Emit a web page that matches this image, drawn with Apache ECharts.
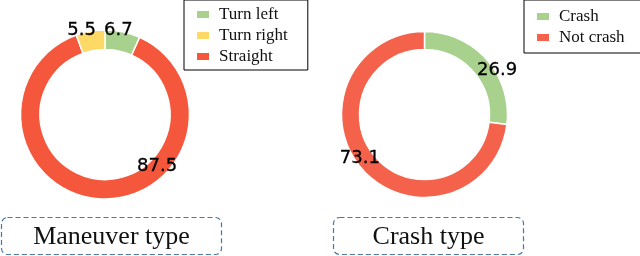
<!DOCTYPE html>
<html><head><meta charset="utf-8">
<script src="https://cdn.jsdelivr.net/npm/echarts@6/dist/echarts.min.js"></script>
<style>html,body{margin:0;padding:0;background:#fff}#c{width:640px;height:256px}</style>
</head><body><div id="c"></div>
<script>
// Data
const maneuverNames = ['Turn left', 'Straight', 'Turn right'];
const maneuverValues = [6.7, 87.5, 5.5];
const maneuverLegend = ['Turn left', 'Turn right', 'Straight'];
const crashNames = ['Crash', 'Not crash'];
const crashValues = [26.9, 73.1];
const titles = ['Maneuver type', 'Crash type'];

const colorMap = {'Turn left':'#a9d18e','Turn right':'#ffd966','Straight':'#f4573b','Crash':'#a9d18e','Not crash':'#f4624b'};
const maneuverOffsets = {'Turn left':[-3,-8],'Straight':[55,-26],'Turn right':[-10,-8]};
const crashOffsets = {'Crash':[15,7],'Not crash':[-7,-7]};

const labelStyle = {fontFamily:'DejaVu Sans', fontSize:18, color:'#000', textBorderColor:'#000', textBorderWidth:0.3};
function buildData(names, values, offsets){
  return names.map((n,i)=>({name:n, value:values[i], itemStyle:{color:colorMap[n]},
    label:{show:true, position:'inside', offset:offsets[n], formatter:'{c}', ...labelStyle}}));
}
const legendCommon = {orient:'vertical', itemWidth:14, itemHeight:9, itemGap:4,
  borderColor:'#000', borderWidth:1, borderRadius:0,
  textStyle:{fontFamily:'Liberation Serif', fontSize:17, color:'#111', padding:[0,0,0,4]}, icon:'rect'};

const chart = echarts.init(document.getElementById('c'), null, {renderer:'canvas'});
function titleBox(x, w, text){
  return {type:'group', children:[
    {type:'rect', shape:{x:x, y:217.5, width:w, height:37, r:6},
     style:{fill:'none', stroke:'#4a76a8', lineWidth:1.2, lineDash:[5,3]}},
    {type:'text', x:x+w/2, y:237, style:{text:text, fontFamily:'Liberation Serif', fontSize:26, fill:'#111', align:'center', verticalAlign:'middle'}}
  ]};
}
chart.setOption({
  animation:false,
  legend:[
    {...legendCommon, data:maneuverLegend, left:184, top:0, padding:[6,20,5,11]},
    {...legendCommon, data:crashNames, left:524, top:0, padding:[8,20,7,11]}
  ],
  series:[
    {type:'pie', center:[105,114.5], radius:[65,84.5], startAngle:90, clockwise:true,
     itemStyle:{borderColor:'#fff', borderWidth:1.5}, labelLine:{show:false},
     emphasis:{disabled:true},
     data:buildData(maneuverNames, maneuverValues, maneuverOffsets)},
    {type:'pie', center:[424.5,114.5], radius:[65,83], startAngle:90, clockwise:true,
     itemStyle:{borderColor:'#fff', borderWidth:1.5}, labelLine:{show:false},
     emphasis:{disabled:true},
     data:buildData(crashNames, crashValues, crashOffsets)}
  ],
  graphic:[titleBox(1.5,220,titles[0]), titleBox(333.5,190,titles[1])]
});
</script></body></html>
